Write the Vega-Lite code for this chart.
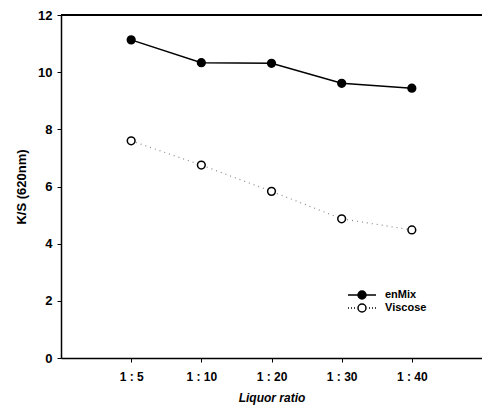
{
  "$schema": "https://vega.github.io/schema/vega-lite/v6.json",
  "width": 421,
  "height": 343,
  "autosize": {"type": "none"},
  "padding": {"left": 61, "top": 15, "right": 0, "bottom": 56},
  "background": "white",
  "config": {
    "view": {"stroke": null},
    "font": "Liberation Sans",
    "axis": {"grid": false, "domainColor": "black", "tickColor": "black", "labelColor": "black", "titleColor": "black", "labelFont": "Liberation Sans", "titleFont": "Liberation Sans", "labelFontWeight": "bold", "titleFontWeight": "bold"}
  },
  "data": {
    "values": [
      {"ratio": "1 : 5", "series": "enMix", "ks": 11.13},
      {"ratio": "1 : 10", "series": "enMix", "ks": 10.33},
      {"ratio": "1 : 20", "series": "enMix", "ks": 10.31},
      {"ratio": "1 : 30", "series": "enMix", "ks": 9.61},
      {"ratio": "1 : 40", "series": "enMix", "ks": 9.44},
      {"ratio": "1 : 5", "series": "Viscose", "ks": 7.6},
      {"ratio": "1 : 10", "series": "Viscose", "ks": 6.75},
      {"ratio": "1 : 20", "series": "Viscose", "ks": 5.83},
      {"ratio": "1 : 30", "series": "Viscose", "ks": 4.87},
      {"ratio": "1 : 40", "series": "Viscose", "ks": 4.48}
    ]
  },
  "encoding": {
    "x": {
      "field": "ratio", "type": "ordinal",
      "sort": ["1 : 5", "1 : 10", "1 : 20", "1 : 30", "1 : 40"],
      "scale": {"type": "point", "padding": 1},
      "axis": {"title": "Liquor ratio", "titleFontStyle": "italic", "titleFontSize": 12, "labelFontSize": 12, "labelAngle": 0, "tickSize": 4, "labelPadding": 9, "titlePadding": 10, "domainWidth": 1.5}
    },
    "y": {
      "field": "ks", "type": "quantitative",
      "scale": {"domain": [0, 12], "nice": false, "zero": true},
      "axis": {"title": "K/S (620nm)", "values": [0, 2, 4, 6, 8, 10, 12], "titleFontSize": 13, "labelFontSize": 13, "tickSize": 4, "labelPadding": 5, "titlePadding": 9, "domainWidth": 1.5}
    }
  },
  "layer": [
    {
      "transform": [{"filter": "datum.series === 'enMix'"}],
      "mark": {"type": "line", "strokeWidth": 1.5},
      "encoding": {
        "color": {
          "field": "series", "type": "nominal",
          "scale": {"domain": ["enMix", "Viscose"], "range": ["black", "black"]},
          "legend": {
            "title": null,
            "orient": "none",
            "legendX": 295,
            "legendY": 274,
            "symbolSize": 100,
            "labelFontSize": 11,
            "labelFontWeight": "bold",
            "labelColor": "black",
            "labelOffset": 17,
            "rowPadding": -1,
            "encode": {
              "symbols": {
                "update": {
                  "shape": [
                    {"test": "datum.value === 'enMix'", "value": "M-2.8,0H2.8M0.8,0A0.8,0.8,0,1,1,-0.8,0A0.8,0.8,0,1,1,0.8,0Z"},
                    {"value": "M-2.8,0h0.2M-2.2,0h0.2M-1.6,0h0.2M1.4,0h0.2M2,0h0.2M2.6,0h0.2M0.8,0A0.8,0.8,0,1,1,-0.8,0A0.8,0.8,0,1,1,0.8,0Z"}
                  ],
                  "fill": [
                    {"test": "datum.value === 'enMix'", "value": "black"},
                    {"value": "white"}
                  ],
                  "stroke": {"value": "black"},
                  "strokeWidth": {"value": 1.5},
                  "opacity": {"value": 1}
                }
              }
            }
          }
        }
      }
    },
    {
      "transform": [{"filter": "datum.series === 'Viscose'"}],
      "mark": {"type": "line", "strokeWidth": 1.2, "strokeDash": [1, 4], "color": "#8a8a8a"},
      "encoding": {}
    },
    {
      "mark": {"type": "point", "shape": "circle", "size": 60, "strokeWidth": 1.5, "opacity": 1, "stroke": "black"},
      "encoding": {
        "fill": {
          "field": "series", "type": "nominal",
          "scale": {"domain": ["enMix", "Viscose"], "range": ["black", "white"]},
          "legend": null
        }
      }
    },
    {
      "mark": {"type": "rule", "color": "black", "strokeWidth": 1.5},
      "encoding": {"y": {"datum": 12}, "x": null}
    }
  ]
}
